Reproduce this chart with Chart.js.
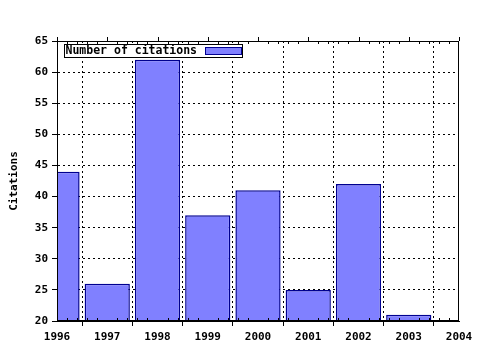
<!DOCTYPE html>
<html>
<head>
<meta charset="utf-8">
<script src="https://cdn.jsdelivr.net/npm/chart.js@4.4.0/dist/chart.umd.min.js"></script>
<style>
  html, body { margin: 0; padding: 0; background: #fff; }
  #wrap { width: 480px; height: 350px; }
</style>
</head>
<body>
<div id="wrap"><canvas id="citationsChart" width="480" height="350"></canvas></div>
<script>
// data
const years = [1996, 1997, 1998, 1999, 2000, 2001, 2002, 2003];
const citations = [44, 26, 62, 37, 41, 25, 42, 21];
const yearTicks = [1996, 1997, 1998, 1999, 2000, 2001, 2002, 2003, 2004];
const citationTicks = [20, 25, 30, 35, 40, 45, 50, 55, 60, 65];
const seriesLabel = 'Number of citations';
const axisTitle = 'Citations';

const FONT = { family: '"DejaVu Sans Mono", monospace', size: 11, weight: 'bold' };
const BAR_FILL = '#8080ff';
const BAR_EDGE = '#000090';

// frame, minor ticks and the legend box inside the plot
const framePlugin = {
    id: 'frame',
    afterDatasetsDraw(chart) {
        const ctx = chart.ctx;
        const a = chart.chartArea;
        const xs = chart.scales.x;
        ctx.save();
        ctx.strokeStyle = '#000';
        ctx.lineWidth = 1;
        ctx.setLineDash([]);
        ctx.strokeRect(Math.round(a.left) + 0.5, Math.round(a.top) + 0.5,
            Math.round(a.right - a.left) - 1, Math.round(a.bottom - a.top) - 1);

        // minor ticks top and bottom, major ticks above the top edge
        ctx.beginPath();
        for (let i = 0; i < yearTicks.length - 1; i++) {
            for (let k = 1; k < 5; k++) {
                const px = Math.round(xs.getPixelForValue(yearTicks[i] + k / 5)) + 0.5;
                ctx.moveTo(px, a.top);
                ctx.lineTo(px, a.top + 3);
                ctx.moveTo(px, a.bottom);
                ctx.lineTo(px, a.bottom - 3);
            }
        }
        yearTicks.forEach(v => {
            const px = Math.round(xs.getPixelForValue(v)) + 0.5;
            ctx.moveTo(px, a.top);
            ctx.lineTo(px, a.top - 4);
        });
        ctx.stroke();

        // legend
        const lx = Math.round(a.left) + 7.5;
        const ly = Math.round(a.top) + 3.5;
        ctx.fillStyle = '#fff';
        ctx.fillRect(lx, ly, 178, 13);
        ctx.strokeRect(lx, ly, 178, 13);
        ctx.font = 'bold 11.5px "DejaVu Sans Mono", monospace';
        ctx.fillStyle = '#000';
        ctx.textBaseline = 'middle';
        ctx.fillText(seriesLabel, lx + 1, ly + 7);
        ctx.fillStyle = BAR_FILL;
        ctx.fillRect(lx + 141, ly + 3, 36, 7);
        ctx.strokeStyle = BAR_EDGE;
        ctx.strokeRect(lx + 141, ly + 3, 36, 7);
        ctx.restore();
    }
};

const ctx = document.getElementById('citationsChart').getContext('2d');
const chart = new Chart(ctx, {
    type: 'bar',
    data: {
        datasets: [{
            label: seriesLabel,
            data: years.map((y, i) => ({ x: y, y: citations[i] })),
            backgroundColor: BAR_FILL,
            borderColor: BAR_EDGE,
            borderWidth: 1.5,
            borderSkipped: 'start',
            categoryPercentage: 0.9,
            barPercentage: 1.0,
            clip: 0
        }]
    },
    options: {
        responsive: false,
        animation: false,
        layout: { padding: { top: 41, right: 21, bottom: 0, left: 0 } },
        plugins: {
            legend: { display: false },
            tooltip: { enabled: false }
        },
        scales: {
            x: {
                type: 'linear',
                min: 1996,
                max: 2004,
                offset: false,
                afterBuildTicks: s => { s.ticks = yearTicks.map(v => ({ value: v })); },
                afterFit: s => { s.height = 29; },
                ticks: {
                    color: '#000',
                    font: FONT,
                    padding: 5,
                    maxRotation: 0,
                    autoSkip: false,
                    callback: v => String(v)
                },
                grid: { color: '#000', tickColor: '#000', tickLength: 5, lineWidth: 1 },
                border: { color: '#000', dash: [2, 3] }
            },
            y: {
                min: 20,
                max: 65,
                afterBuildTicks: s => { s.ticks = citationTicks.map(v => ({ value: v })); },
                afterFit: s => { s.width = 57; },
                ticks: { color: '#000', font: FONT, padding: 4, callback: v => String(v) },
                grid: { color: '#000', tickColor: '#000', tickLength: 5, lineWidth: 1 },
                border: { color: '#000', dash: [2, 3] },
                title: {
                    display: true,
                    text: axisTitle,
                    color: '#000',
                    font: FONT,
                    padding: { top: 8, bottom: 0 }
                }
            }
        }
    },
    plugins: [framePlugin]
});
</script>
</body>
</html>
